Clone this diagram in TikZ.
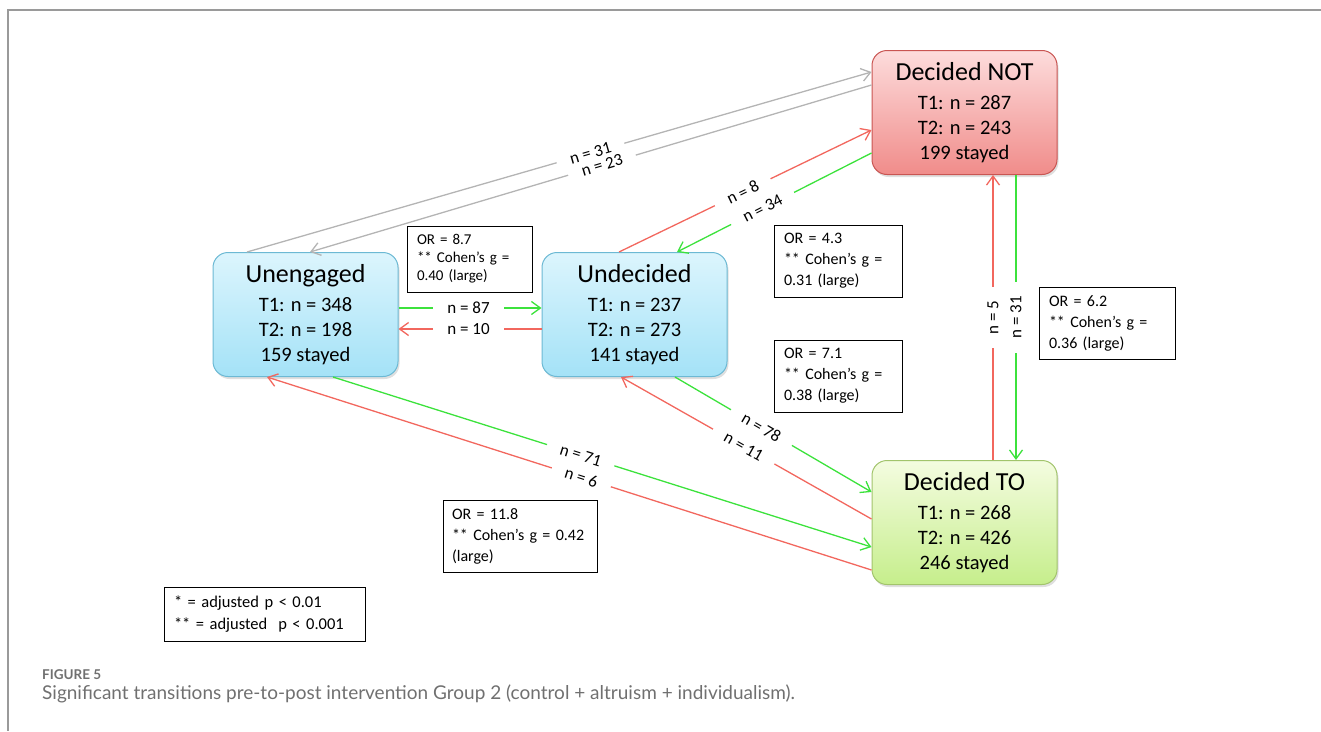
\documentclass[tikz,border=0pt]{standalone}
\usepackage{fontspec}
\setmainfont{Carlito}
\newfontfamily\capfont{Lato}
\usetikzlibrary{arrows.meta,shadows}
\definecolor{framegray}{HTML}{9A9A9A}
\definecolor{sidegray}{HTML}{B4B4B4}
\definecolor{upgreen}{HTML}{3CE23C}
\definecolor{downred}{HTML}{F2675E}
\definecolor{blueTop}{HTML}{DCF5FD}
\definecolor{blueBot}{HTML}{A4E2F7}
\definecolor{blueEdge}{HTML}{6CB9D4}
\definecolor{redTop}{HTML}{FDDCDC}
\definecolor{redBot}{HTML}{F08C8A}
\definecolor{redEdge}{HTML}{C95552}
\definecolor{greenTop}{HTML}{F4FCE0}
\definecolor{greenBot}{HTML}{C6EE8C}
\definecolor{greenEdge}{HTML}{A2C46C}
\definecolor{capgray}{HTML}{707070}
\newcommand{\thickness}{1.3pt}
\newcommand{\statebox}[4]{{\fontsize{26}{30}\selectfont #1}\\[4pt]T1: n = #2\\T2: n = #3\\#4 stayed}
\tikzset{
  phase/.style={rounded corners=15pt, line width=1pt, minimum width=185pt, minimum height=124pt,
    align=center, font=\fontsize{20.5}{25}\selectfont,
    drop shadow={shadow xshift=1.5pt, shadow yshift=-2.5pt, opacity=0.25}},
  trans/.style={line width=\thickness},
  arr/.style={-{Straight Barb[length=9pt,width=13pt]}},
  nlabel/.style={fill=white, text=black, inner xsep=14pt, inner ysep=0pt, sloped, font=\fontsize{17}{19}\selectfont},
  orbox/.style={draw, line width=1pt, align=left, inner xsep=10pt, font=\fontsize{16}{21}\selectfont}
}
\begin{document}
\begin{tikzpicture}[x=1pt, y=-1pt]
\useasboundingbox (0,0) rectangle (1321,731);
\draw[framegray, line width=1.2pt] (1321,10) -- (8,10) -- (8,731);
%states
\node[phase, top color=blueTop, bottom color=blueBot, draw=blueEdge] (une) at (305.5,314.5) {\statebox{Unengaged}{348}{198}{159}};
\node[phase, top color=blueTop, bottom color=blueBot, draw=blueEdge] (und) at (634.5,314.5) {\statebox{Undecided}{237}{273}{141}};
\node[phase, top color=redTop, bottom color=redBot, draw=redEdge] (dn) at (964.5,112.5) {\statebox{Decided NOT}{287}{243}{199}};
\node[phase, top color=greenTop, bottom color=greenBot, draw=greenEdge] (dt) at (964.5,522.5) {\statebox{Decided TO}{268}{426}{246}};
%transitions
\draw[trans, sidegray, arr] ([xshift=-58.5pt]une.north) -- node[nlabel, pos=0.55] {n = 31} ([yshift=40.5pt]dn.west);
\draw[trans, sidegray, arr] ([yshift=27.5pt]dn.west) -- node[nlabel, pos=0.48] {n = 23} ([xshift=4.5pt]une.north);
\draw[trans, downred, arr] ([xshift=-15.5pt]und.north) -- node[nlabel, pos=0.49] {n = 8} ([yshift=-17.5pt]dn.west);
\draw[trans, upgreen, arr] ([yshift=-40.5pt]dn.west) -- node[nlabel, pos=0.56] {n = 34} ([xshift=42.5pt]und.north);
\draw[trans, upgreen, arr] ([yshift=6.5pt]une.east) -- node[nlabel, pos=0.49] {n = 87} ([yshift=6.5pt]und.west);
\draw[trans, downred, arr] ([yshift=-14.5pt]und.west) -- node[nlabel, pos=0.51] {n = 10} ([yshift=-14.5pt]une.east);
\draw[trans, upgreen, arr] ([xshift=27.5pt]une.south) -- node[nlabel, pos=0.46] {n = 71} ([yshift=-24.5pt]dt.west);
\draw[trans, downred, arr] ([yshift=-47.5pt]dt.west) -- node[nlabel, pos=0.48] {n = 6} ([xshift=-38.5pt]une.south);
\draw[trans, upgreen, arr] ([xshift=40.5pt]und.south) -- node[nlabel, pos=0.44] {n = 78} ([yshift=30.5pt]dt.west);
\draw[trans, downred, arr] ([yshift=3.5pt]dt.west) -- node[nlabel, pos=0.51] {n = 11} ([xshift=-13.5pt]und.south);
\draw[trans, downred, arr] ([xshift=28.5pt]dt.north) -- node[nlabel, sloped=false, rotate=90, pos=0.5] {n = 5} ([xshift=28.5pt]dn.south);
\draw[trans, upgreen, arr] ([xshift=51.5pt]dn.south) -- node[nlabel, sloped=false, rotate=90, pos=0.5] {n = 31} ([xshift=51.5pt]dt.north);
%effect sizes
\node[orbox, text width=105pt, minimum height=66pt, font=\fontsize{15}{18}\selectfont] (or87) at (469.5,259) {OR = 8.7\\{}** Cohen’s g =\\0.40 (large)};
\node[orbox, text width=108pt, minimum height=72pt] (or43) at (838,261) {OR = 4.3\\{}** Cohen’s g =\\0.31 (large)};
\node[orbox, text width=116pt, minimum height=72pt] (or62) at (1107,323) {OR = 6.2\\{}** Cohen’s g =\\0.36 (large)};
\node[orbox, text width=108pt, minimum height=72pt] (or71) at (838,376) {OR = 7.1\\{}** Cohen’s g =\\0.38 (large)};
\node[orbox, text width=136pt, minimum height=72pt, inner xsep=9pt] (or118) at (520,536) {OR = 11.8\\{}** Cohen’s g = 0.42\\(large)};
\node[orbox, text width=181pt, minimum height=54pt, font=\fontsize{16.5}{22}\selectfont] (legend) at (264.5,614) {* = adjusted p < 0.01\\{}** = adjusted\ \ p < 0.001};
%caption
\node[anchor=west, inner sep=0pt, text=capgray, font=\capfont\bfseries\fontsize{13.5}{15}\selectfont] (figno) at (42,675) {FIGURE 5};
\node[anchor=west, inner sep=0pt, text=capgray, font=\capfont\fontsize{19}{22}\selectfont] (figcap) at (42,694) {Significant transitions pre-to-post intervention Group 2 (control + altruism + individualism).};
\end{tikzpicture}
\end{document}
